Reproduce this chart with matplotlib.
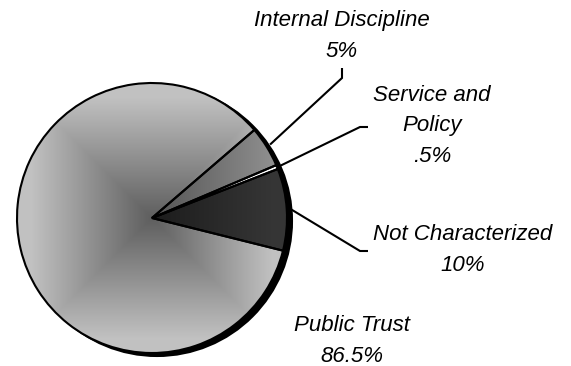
import numpy as np
import matplotlib
matplotlib.use("Agg")
import matplotlib.pyplot as plt
from matplotlib.patches import Circle

# Complaint categories and their shares (percent)
categories = ["Not Characterized", "Service and\nPolicy", "Internal Discipline", "Public Trust"]
shares = [10, 0.5, 5, 86.5]
share_labels = ["10%", ".5%", "5%", "86.5%"]

# Shading ramps per slice (centre grey level -> edge grey level, 0..1)
ramps = [(0.11, 0.21), (1.0, 1.0), (0.33, 0.56), (0.37, 0.76)]

W, H = 571, 366
fig = plt.figure(figsize=(W / 100, H / 100), dpi=100)
ax = fig.add_axes([0, 0, 1, 1])

cx, cy, R = 152, 148, 135

wedges, _ = ax.pie(shares, startangle=-14, counterclock=True,
                   center=(cx, cy), radius=R,
                   wedgeprops=dict(facecolor="none", edgecolor="black",
                                   linewidth=1.5, zorder=3))

# depth rim behind the disc
ax.add_patch(Circle((cx + 5, cy - 3), R, facecolor="black",
                    edgecolor="black", linewidth=1.5, zorder=0))

# square "from centre" gradient for every slice, clipped to its wedge
n = 400
g = np.linspace(-1, 1, n)
gx, gy = np.meshgrid(g, g)
t = np.clip(np.maximum(np.abs(gx), np.abs(gy)) / 0.9, 0, 1)
for w, (lo, hi) in zip(wedges, ramps):
    v = lo + (hi - lo) * t
    rgb = np.dstack([v, v, v])
    im = ax.imshow(rgb, extent=(cx - R, cx + R, cy - R, cy + R),
                   origin="lower", interpolation="bilinear", zorder=1)
    im.set_clip_path(w)

# leader lines: from slice mid-angle on the rim to an elbow near the label
leaders = {
    0: [(360, 115), (368, 115)],
    1: [(360, 239), (368, 239)],
    2: [(342, 288), (342, 298)],
}
for i, pts in leaders.items():
    w = wedges[i]
    mid = np.deg2rad((w.theta1 + w.theta2) / 2)
    sx, sy = cx + 1.03 * R * np.cos(mid), cy + 1.03 * R * np.sin(mid)
    xs = [sx] + [p[0] for p in pts]
    ys = [sy] + [p[1] for p in pts]
    ax.plot(xs, ys, color="black", linewidth=1.5, zorder=4,
            solid_capstyle="butt", solid_joinstyle="miter")

label_pos = [(463, 116), (432, 240), (342, 330), (352, 25)]
for cat, lab, (tx, ty) in zip(categories, share_labels, label_pos):
    ax.text(tx, ty, f"{cat}\n{lab}", ha="center", va="center",
            family=["Liberation Sans", "DejaVu Sans"], style="italic",
            fontsize=16, linespacing=1.58, color="black", zorder=5)

ax.set_xlim(0, W)
ax.set_ylim(0, H)
ax.set_aspect("equal")
ax.axis("off")

fig.savefig("out.png", dpi=100)
